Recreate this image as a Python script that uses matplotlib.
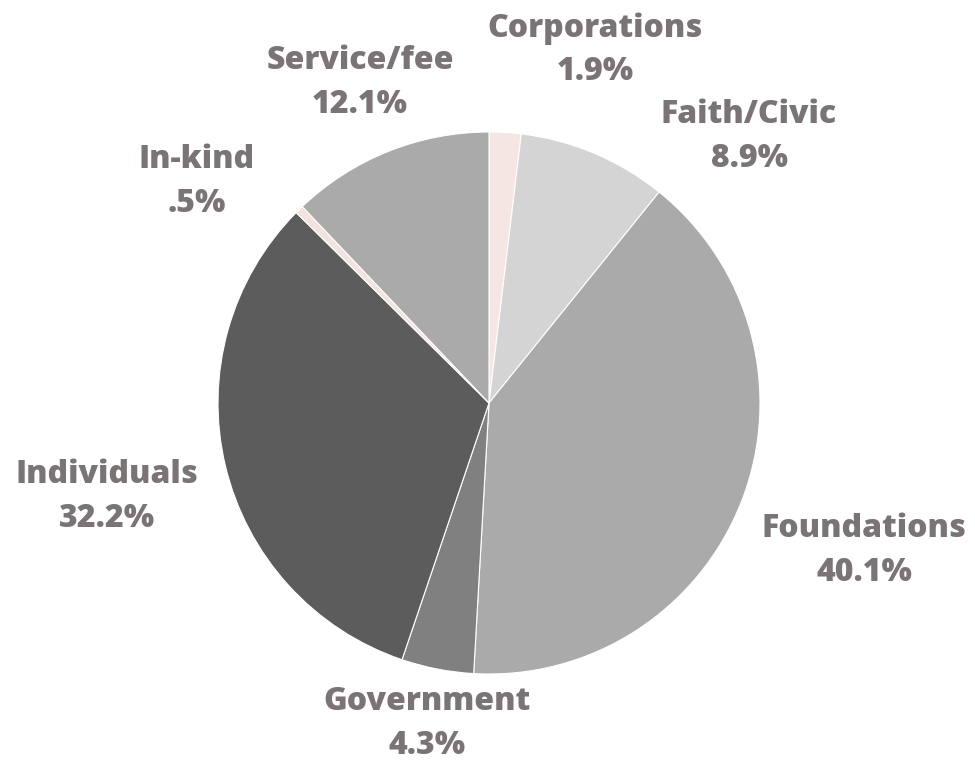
import matplotlib
matplotlib.use("Agg")
import matplotlib.pyplot as plt

categories = ["Corporations", "Faith/Civic", "Foundations", "Government",
              "Individuals", "In-kind", "Service/fee"]
values = [1.9, 8.9, 40.1, 4.3, 32.2, 0.5, 12.1]
value_labels = ["1.9%", "8.9%", "40.1%", "4.3%", "32.2%", ".5%", "12.1%"]
colors = ["#f5e6e3", "#d4d4d4", "#aaaaaa", "#808080", "#5c5c5c", "#f3e3e0", "#aaaaaa"]

# label anchor positions (figure pixel coords, center of the two-line block)
label_pos = [(595, 50), (749, 137), (864, 551), (427, 724),
             (107, 497), (197, 182), (360, 83)]

W, H = 975, 762
fig = plt.figure(figsize=(W / 100, H / 100), dpi=100)
ax = fig.add_axes([0, 0, 1, 1])

cx, cy, r = 489, H - 403, 271
ax.pie(values, colors=colors, startangle=90, counterclock=False,
       center=(cx, cy), radius=r, frame=True,
       wedgeprops=dict(edgecolor="white", linewidth=0.8))
ax.set_xlim(0, W)
ax.set_ylim(0, H)
ax.set_aspect("equal")
ax.axis("off")

txt_color = "#7a7475"
for cat, vl, (px, py) in zip(categories, value_labels, label_pos):
    ax.text(px, H - py, f"{cat}\n{vl}", ha="center", va="center",
            fontsize=23, fontweight=800, family="Open Sans",
            color=txt_color, linespacing=1.46)

fig.savefig("out.png", dpi=100)
